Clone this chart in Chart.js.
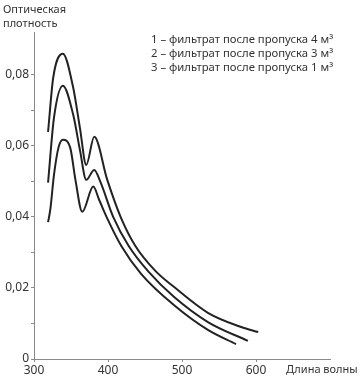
<!DOCTYPE html>
<html>
<head>
<meta charset="utf-8">
<script src="https://cdn.jsdelivr.net/npm/chart.js@4"></script>
<style>
  html, body { margin: 0; padding: 0; background: #fff; }
  #wrap { width: 360px; height: 380px; position: relative; }
</style>
</head>
<body>
<div id="wrap"><canvas id="chart"></canvas></div>
<script>
// wavelengths (nm) and optical density
const wave1 = [319, 326, 339, 353, 362, 370.6, 381.4, 399, 417, 437, 464, 489, 535, 580, 603];
const dens1 = [0.0639, 0.0792, 0.0859, 0.0763, 0.0651, 0.0546, 0.0625, 0.0504, 0.0400, 0.0318, 0.0248, 0.0203, 0.0130, 0.0090, 0.0076];

const wave2 = [319, 327, 339, 353, 362, 370.6, 381.4, 389.6, 407, 428, 455, 489, 535, 589];
const dens2 = [0.0496, 0.0679, 0.0769, 0.0687, 0.0589, 0.0504, 0.0532, 0.0499, 0.0400, 0.0318, 0.0245, 0.0175, 0.0104, 0.0051];

const wave3 = [319, 322, 327, 333, 339, 349, 356, 365.2, 380.1, 388, 398, 418, 445, 489, 535, 573];
const dens3 = [0.0385, 0.0420, 0.0518, 0.0594, 0.0617, 0.0594, 0.0504, 0.0414, 0.0485, 0.0448, 0.0400, 0.0318, 0.0239, 0.0152, 0.0082, 0.0042];

const seriesLabels = [
  "1 – фильтрат после пропуска 4 м³",
  "2 – фильтрат после пропуска 3 м³",
  "3 – фильтрат после пропуска 1 м³"
];
const xTicks = [300, 400, 500, 600];
const yTicks = [0, 0.01, 0.02, 0.03, 0.04, 0.05, 0.06, 0.07, 0.08];

const FONT = "'Noto Sans', sans-serif";
const INK = "#222";
const AXIS = "#8a8a8a";

function pts(xs, ys) {
  return xs.map((x, i) => ({ x: x, y: ys[i] }));
}

const textPlugin = {
  id: "texts",
  afterDraw(chart) {
    const ctx = chart.ctx;
    ctx.save();
    ctx.fillStyle = "#333";
    ctx.textBaseline = "middle";
    ctx.textAlign = "left";
    ctx.font = "11px " + FONT;
    ctx.fillText("Оптическая", 3, 10);
    ctx.fillText("плотность", 3, 24);
    ctx.fillText("Длина волны", 286, 370);
    ctx.font = "11.3px " + FONT;
    chart.data.datasets.forEach((ds, i) => {
      ctx.fillText(ds.label, 151, 40 + i * 14);
    });
    ctx.restore();
  }
};

const ctx = document.getElementById("chart").getContext("2d");

new Chart(ctx, {
  type: "line",
  data: {
    datasets: [
      { label: seriesLabels[0], data: pts(wave1, dens1) },
      { label: seriesLabels[1], data: pts(wave2, dens2) },
      { label: seriesLabels[2], data: pts(wave3, dens3) }
    ]
  },
  options: {
    responsive: true,
    maintainAspectRatio: false,
    animation: false,
    layout: { padding: { left: 0, right: 30, top: 32, bottom: 0 } },
    elements: {
      line: { borderColor: INK, borderWidth: 2, cubicInterpolationMode: "monotone", fill: false },
      point: { radius: 0 }
    },
    scales: {
      x: {
        type: "linear",
        min: 300,
        max: 700,
        afterBuildTicks: axis => { axis.ticks = xTicks.map(v => ({ value: v })); },
        afterFit: axis => { axis.height = 21; },
        border: { display: true, color: AXIS, width: 1 },
        grid: { drawOnChartArea: false, drawTicks: true, tickLength: 3, color: AXIS },
        ticks: {
          color: "#333",
          padding: 1,
          maxRotation: 0,
          font: { family: FONT, size: 12 },
          callback: v => String(v)
        }
      },
      y: {
        min: 0,
        max: 0.092,
        afterBuildTicks: axis => { axis.ticks = yTicks.map(v => ({ value: v })); },
        afterFit: axis => { axis.width = 34; },
        border: { display: true, color: AXIS, width: 1 },
        grid: { drawOnChartArea: false, drawTicks: true, tickLength: 3, color: AXIS },
        ticks: {
          color: "#333",
          padding: 2,
          font: { family: FONT, size: 12 },
          callback: v => {
            const hundredths = Math.round(v * 100);
            if (hundredths % 2 !== 0) return "";
            if (hundredths === 0) return "0";
            return v.toFixed(2).replace(".", ",");
          }
        }
      }
    },
    plugins: {
      legend: { display: false },
      tooltip: { enabled: false }
    }
  },
  plugins: [textPlugin]
});
</script>
</body>
</html>
